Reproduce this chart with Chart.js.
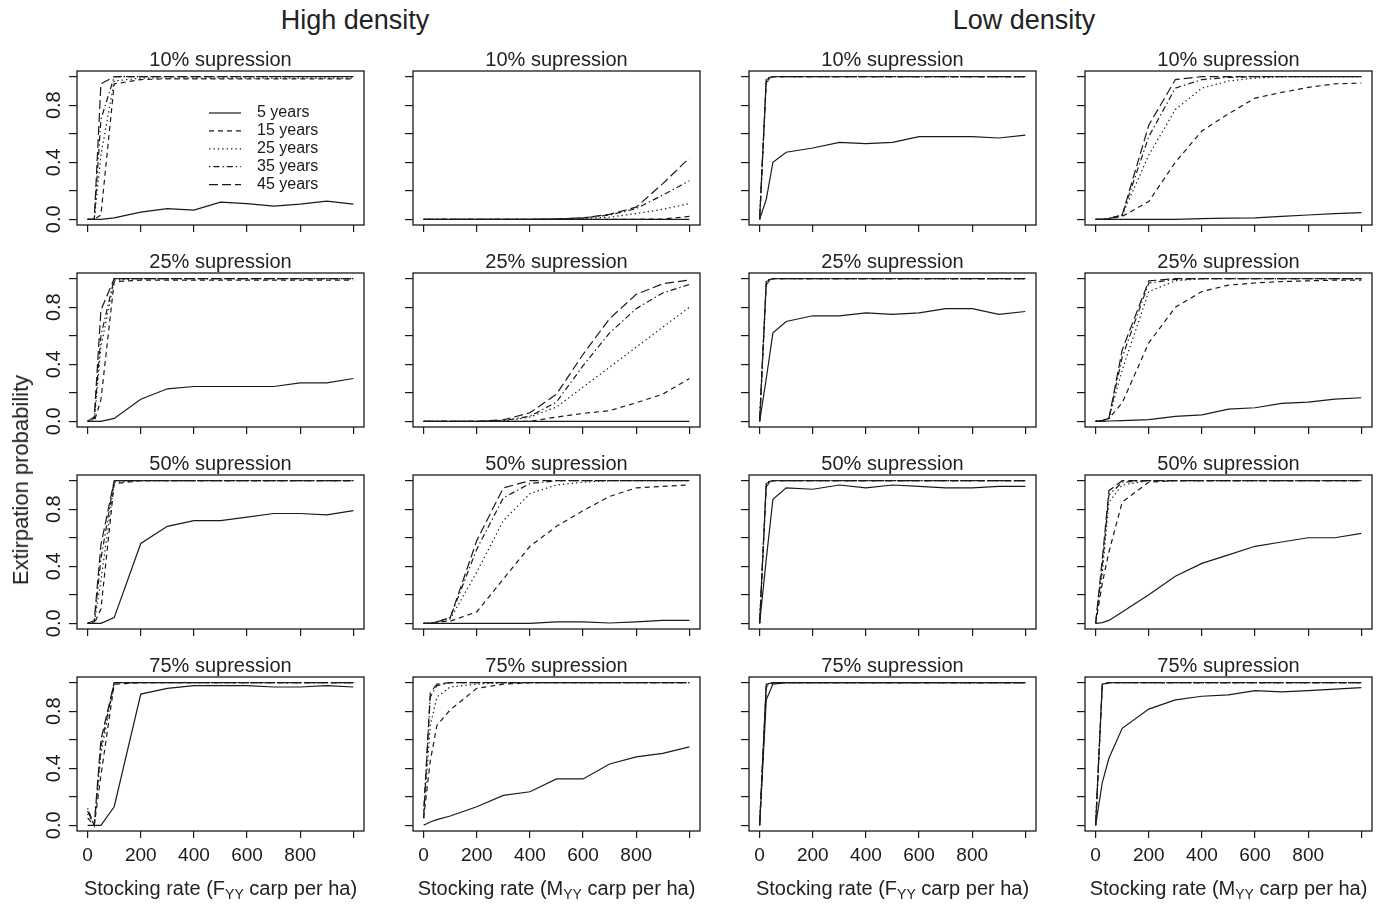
<!DOCTYPE html>
<html>
<head>
<meta charset="utf-8">
<script src="https://cdn.jsdelivr.net/npm/chart.js@4.4.0/dist/chart.umd.min.js"></script>
<style>
  html, body { margin: 0; padding: 0; background: #fff; }
  body { width: 1390px; height: 905px; position: relative; overflow: hidden;
         font-family: "Liberation Sans", Arial, sans-serif; color: #222; }
  .panel { position: absolute; }
  .lbl { position: absolute; transform: translate(-50%, -50%); white-space: nowrap; line-height: 1; }
  .hdr { font-size: 27px; }
  .ptitle { font-size: 20px; }
  .xtitle { font-size: 20px; }
  .xtitle sub { font-size: 70%; vertical-align: -0.3em; line-height: 0; }
  .ytitle { font-size: 22px; transform: translate(-50%, -50%) rotate(-90deg); }
</style>
</head>
<body>
<script>
// stocking rates (x) shared by every panel
const stockingRate = [0, 25, 50, 100, 200, 300, 400, 500, 600, 700, 800, 900, 1000];
const horizons = ["5 years", "15 years", "25 years", "35 years", "45 years"];
const suppression = ["10% supression", "25% supression", "50% supression", "75% supression"];
const densityHeaders = ["High density", "Low density"];
const xTickValues = [0, 200, 400, 600, 800, 1000];
const xTickLabels = ["0", "200", "400", "600", "800", ""];
const yTickValues = [0, 0.2, 0.4, 0.6, 0.8, 1];
const yTickLabels = ["0.0", "", "0.4", "", "0.8", ""];

// each panel: one row per horizon (5, 15, 25, 35, 45 years)
// High density, F_YY
const hiF10 = [
  [0, 0, 0, 0.01, 0.05, 0.075, 0.065, 0.12, 0.11, 0.093, 0.107, 0.128, 0.107],
  [0, 0, 0.03, 0.95, 0.98, 0.985, 0.985, 0.985, 0.985, 0.985, 0.985, 0.985, 0.985],
  [0, 0, 0.45, 0.97, 0.99, 0.99, 0.99, 0.99, 0.99, 0.99, 0.99, 0.99, 0.99],
  [0, 0, 0.7, 1, 1, 1, 1, 1, 1, 1, 1, 1, 1],
  [0, 0, 0.95, 1, 1, 1, 1, 1, 1, 1, 1, 1, 1]
];
const hiF25 = [
  [0, 0, 0, 0.02, 0.155, 0.228, 0.244, 0.244, 0.244, 0.244, 0.27, 0.27, 0.3],
  [0, 0, 0.15, 0.98, 0.99, 0.99, 0.99, 0.99, 0.99, 0.99, 0.99, 0.99, 0.99],
  [0, 0, 0.52, 0.99, 1, 1, 1, 1, 1, 1, 1, 1, 1],
  [0, 0.02, 0.6, 1, 1, 1, 1, 1, 1, 1, 1, 1, 1],
  [0, 0.03, 0.78, 1, 1, 1, 1, 1, 1, 1, 1, 1, 1]
];
const hiF50 = [
  [0, 0, 0, 0.04, 0.56, 0.68, 0.72, 0.72, 0.745, 0.77, 0.77, 0.76, 0.79],
  [0, 0, 0.1, 0.98, 1, 1, 1, 1, 1, 1, 1, 1, 1],
  [0, 0, 0.3, 0.99, 1, 1, 1, 1, 1, 1, 1, 1, 1],
  [0, 0.01, 0.45, 1, 1, 1, 1, 1, 1, 1, 1, 1, 1],
  [0, 0.02, 0.55, 1, 1, 1, 1, 1, 1, 1, 1, 1, 1]
];
const hiF75 = [
  [0, 0, 0, 0.13, 0.92, 0.96, 0.98, 0.98, 0.98, 0.97, 0.97, 0.98, 0.97],
  [0.05, 0, 0.35, 0.99, 1, 1, 1, 1, 1, 1, 1, 1, 1],
  [0.08, 0, 0.5, 1, 1, 1, 1, 1, 1, 1, 1, 1, 1],
  [0.12, 0, 0.55, 1, 1, 1, 1, 1, 1, 1, 1, 1, 1],
  [0.1, 0, 0.6, 1, 1, 1, 1, 1, 1, 1, 1, 1, 1]
];
// High density, M_YY
const hiM10 = [
  [0, 0, 0, 0, 0, 0, 0, 0, 0, 0, 0, 0, 0],
  [0, 0, 0, 0, 0, 0, 0, 0, 0, 0, 0, 0.002, 0.02],
  [0, 0, 0, 0, 0, 0, 0, 0, 0.005, 0.015, 0.04, 0.07, 0.11],
  [0, 0, 0, 0, 0, 0, 0, 0.002, 0.01, 0.03, 0.075, 0.17, 0.27],
  [0, 0, 0, 0, 0, 0, 0, 0.003, 0.01, 0.035, 0.085, 0.25, 0.43]
];
const hiM25 = [
  [0, 0, 0, 0, 0, 0, 0, 0, 0, 0, 0, 0, 0],
  [0, 0, 0, 0, 0, 0, 0, 0.03, 0.055, 0.075, 0.13, 0.19, 0.3],
  [0, 0, 0, 0, 0, 0, 0.03, 0.1, 0.24, 0.38, 0.52, 0.66, 0.8],
  [0, 0, 0, 0, 0, 0.005, 0.035, 0.135, 0.39, 0.62, 0.79, 0.9, 0.96],
  [0, 0, 0, 0, 0, 0.01, 0.06, 0.19, 0.47, 0.72, 0.89, 0.965, 0.99]
];
const hiM50 = [
  [0, 0, 0, 0, 0, 0, 0, 0.01, 0.01, 0.002, 0.01, 0.02, 0.02],
  [0, 0, 0.01, 0.015, 0.08, 0.31, 0.54, 0.68, 0.79, 0.89, 0.95, 0.96, 0.97],
  [0, 0, 0.01, 0.03, 0.36, 0.72, 0.91, 0.97, 0.99, 1, 1, 1, 1],
  [0, 0, 0.01, 0.04, 0.52, 0.88, 0.98, 1, 1, 1, 1, 1, 1],
  [0, 0, 0.01, 0.04, 0.58, 0.95, 1, 1, 1, 1, 1, 1, 1]
];
const hiM75 = [
  [0, 0.023, 0.04, 0.065, 0.13, 0.21, 0.235, 0.325, 0.325, 0.43, 0.48, 0.505, 0.55],
  [0.05, 0.45, 0.7, 0.81, 0.96, 0.99, 1, 1, 1, 1, 1, 1, 1],
  [0.05, 0.7, 0.9, 0.97, 0.99, 1, 1, 1, 1, 1, 1, 1, 1],
  [0.1, 0.9, 0.98, 1, 1, 1, 1, 1, 1, 1, 1, 1, 1],
  [0.05, 0.93, 0.99, 1, 1, 1, 1, 1, 1, 1, 1, 1, 1]
];
// Low density, F_YY
const loF10 = [
  [0, 0.14, 0.4, 0.47, 0.5, 0.54, 0.53, 0.54, 0.58, 0.58, 0.58, 0.57, 0.59],
  [0, 0.96, 1, 1, 1, 1, 1, 1, 1, 1, 1, 1, 1],
  [0, 0.97, 1, 1, 1, 1, 1, 1, 1, 1, 1, 1, 1],
  [0, 0.98, 1, 1, 1, 1, 1, 1, 1, 1, 1, 1, 1],
  [0, 0.99, 1, 1, 1, 1, 1, 1, 1, 1, 1, 1, 1]
];
const loF25 = [
  [0, 0.3, 0.62, 0.7, 0.74, 0.74, 0.76, 0.75, 0.76, 0.79, 0.79, 0.75, 0.77],
  [0, 0.96, 1, 1, 1, 1, 1, 1, 1, 1, 1, 1, 1],
  [0, 0.97, 1, 1, 1, 1, 1, 1, 1, 1, 1, 1, 1],
  [0, 0.98, 1, 1, 1, 1, 1, 1, 1, 1, 1, 1, 1],
  [0, 0.99, 1, 1, 1, 1, 1, 1, 1, 1, 1, 1, 1]
];
const loF50 = [
  [0, 0.45, 0.87, 0.95, 0.94, 0.97, 0.95, 0.97, 0.96, 0.95, 0.95, 0.96, 0.96],
  [0, 0.96, 1, 1, 1, 1, 1, 1, 1, 1, 1, 1, 1],
  [0, 0.97, 1, 1, 1, 1, 1, 1, 1, 1, 1, 1, 1],
  [0, 0.98, 1, 1, 1, 1, 1, 1, 1, 1, 1, 1, 1],
  [0, 0.99, 1, 1, 1, 1, 1, 1, 1, 1, 1, 1, 1]
];
const loF75 = [
  [0, 0.88, 0.99, 1, 1, 1, 1, 1, 1, 1, 1, 1, 1],
  [0, 0.97, 1, 1, 1, 1, 1, 1, 1, 1, 1, 1, 1],
  [0, 0.98, 1, 1, 1, 1, 1, 1, 1, 1, 1, 1, 1],
  [0, 0.99, 1, 1, 1, 1, 1, 1, 1, 1, 1, 1, 1],
  [0, 0.99, 1, 1, 1, 1, 1, 1, 1, 1, 1, 1, 1]
];
// Low density, M_YY
const loM10 = [
  [0, 0, 0, 0, 0, 0, 0.005, 0.008, 0.01, 0.02, 0.03, 0.04, 0.047],
  [0, 0, 0.005, 0.02, 0.125, 0.4, 0.62, 0.74, 0.85, 0.89, 0.925, 0.95, 0.955],
  [0, 0, 0.005, 0.03, 0.45, 0.77, 0.92, 0.97, 0.99, 1, 1, 1, 1],
  [0, 0, 0.005, 0.03, 0.58, 0.92, 0.98, 0.995, 1, 1, 1, 1, 1],
  [0, 0, 0.005, 0.03, 0.66, 0.98, 1, 1, 1, 1, 1, 1, 1]
];
const loM25 = [
  [0, 0, 0.002, 0.005, 0.012, 0.035, 0.045, 0.085, 0.095, 0.125, 0.135, 0.155, 0.165],
  [0, 0.005, 0.02, 0.13, 0.55, 0.8, 0.91, 0.955, 0.97, 0.98, 0.985, 0.99, 0.99],
  [0, 0.005, 0.02, 0.36, 0.91, 0.985, 1, 1, 1, 1, 1, 1, 1],
  [0, 0.005, 0.02, 0.45, 0.97, 0.995, 1, 1, 1, 1, 1, 1, 1],
  [0, 0.005, 0.02, 0.5, 0.985, 1, 1, 1, 1, 1, 1, 1, 1]
];
const loM50 = [
  [0, 0.005, 0.02, 0.08, 0.2, 0.33, 0.42, 0.48, 0.54, 0.57, 0.6, 0.6, 0.63],
  [0, 0.28, 0.5, 0.85, 0.99, 1, 1, 1, 1, 1, 1, 1, 1],
  [0, 0.35, 0.85, 0.97, 1, 1, 1, 1, 1, 1, 1, 1, 1],
  [0, 0.4, 0.9, 0.99, 1, 1, 1, 1, 1, 1, 1, 1, 1],
  [0, 0.45, 0.93, 1, 1, 1, 1, 1, 1, 1, 1, 1, 1]
];
const loM75 = [
  [0, 0.3, 0.47, 0.68, 0.815, 0.88, 0.905, 0.915, 0.945, 0.935, 0.945, 0.955, 0.965],
  [0, 0.98, 1, 1, 1, 1, 1, 1, 1, 1, 1, 1, 1],
  [0, 0.99, 1, 1, 1, 1, 1, 1, 1, 1, 1, 1, 1],
  [0, 0.99, 1, 1, 1, 1, 1, 1, 1, 1, 1, 1, 1],
  [0, 0.99, 1, 1, 1, 1, 1, 1, 1, 1, 1, 1, 1]
];

// grid of panels: rows = suppression level, columns = hiF, hiM, loF, loM
const panels = [
  [hiF10, hiM10, loF10, loM10],
  [hiF25, hiM25, loF25, loM25],
  [hiF50, hiM50, loF50, loM50],
  [hiF75, hiM75, loF75, loM75]
];
const xTitleSub = ["F", "M", "F", "M"];

// LAYOUT (px)
const boxLeft = [77, 413, 749, 1085];
const boxTop = [70.5, 272.6, 474.7, 676.8];
const boxW = 287, boxH = 154;
const padL = 45, padT = 2, padR = 3;

const ink = "#1a1a1a";
const dashes = [[], [5, 4], [1.4, 3], [1.4, 3, 6, 3], [9, 4]];
const fontFam = '"Liberation Sans", Arial, sans-serif';

Chart.defaults.font.family = fontFam;
Chart.defaults.color = ink;

function addLabel(text, cls, x, y, html) {
  const d = document.createElement("div");
  d.className = "lbl " + cls;
  d.style.left = x + "px";
  d.style.top = y + "px";
  if (html) d.innerHTML = text; else d.textContent = text;
  document.body.appendChild(d);
}

// box + rotated y labels + legend
const rFrame = {
  id: "rFrame",
  afterDraw(chart) {
    const { ctx, chartArea: a } = chart;
    const o = chart.options.plugins.rFrame;
    ctx.save();
    ctx.strokeStyle = ink;
    ctx.lineWidth = 1.3;
    ctx.strokeRect(a.left, a.top, a.right - a.left, a.bottom - a.top);

    if (o.yLabels) {
      const ys = chart.scales.y;
      ctx.fillStyle = ink;
      ctx.font = "20px " + fontFam;
      ctx.textAlign = "center";
      ctx.textBaseline = "middle";
      yTickValues.forEach((v, i) => {
        if (!yTickLabels[i]) return;
        ctx.save();
        ctx.translate(a.left - 23, ys.getPixelForValue(v));
        ctx.rotate(-Math.PI / 2);
        ctx.fillText(yTickLabels[i], 0, 0);
        ctx.restore();
      });
    }

    if (o.legend) {
      ctx.font = "16px " + fontFam;
      ctx.textAlign = "left";
      ctx.textBaseline = "middle";
      chart.data.datasets.forEach((ds, i) => {
        const y = a.top + 42 + i * 17.9;
        ctx.beginPath();
        ctx.setLineDash(ds.borderDash);
        ctx.lineWidth = 1.2;
        ctx.moveTo(a.left + 132, y);
        ctx.lineTo(a.left + 164, y);
        ctx.stroke();
        ctx.setLineDash([]);
        ctx.fillStyle = ink;
        ctx.fillText(ds.label, a.left + 180, y);
      });
    }
    ctx.restore();
  }
};

panels.forEach((row, r) => {
  row.forEach((series, c) => {
    const last = r === 3;
    const bottomH = last ? 50 : 12;
    const W = padL + boxW + padR, H = padT + boxH + bottomH;
    const wrap = document.createElement("div");
    wrap.className = "panel";
    wrap.style.left = (boxLeft[c] - padL) + "px";
    wrap.style.top = (boxTop[r] - padT) + "px";
    wrap.style.width = W + "px";
    wrap.style.height = H + "px";
    const cv = document.createElement("canvas");
    cv.width = W; cv.height = H;
    wrap.appendChild(cv);
    document.body.appendChild(wrap);

    new Chart(cv, {
      type: "line",
      data: {
        labels: stockingRate,
        datasets: series.map((vals, i) => ({
          label: horizons[i],
          data: vals.map((v, k) => ({ x: stockingRate[k], y: v })),
          borderColor: ink,
          borderWidth: 1.2,
          borderDash: dashes[i],
          pointRadius: 0,
          tension: 0,
          fill: false
        }))
      },
      options: {
        responsive: false,
        animation: false,
        devicePixelRatio: 1,
        layout: { padding: { top: padT, right: padR, left: 0, bottom: 0 } },
        plugins: {
          legend: { display: false },
          tooltip: { enabled: false },
          rFrame: { yLabels: c === 0, legend: r === 0 && c === 0 }
        },
        scales: {
          x: {
            type: "linear",
            min: -40, max: 1040,
            afterBuildTicks: s => { s.ticks = xTickValues.map(v => ({ value: v })); },
            afterFit: s => { s.height = bottomH; },
            grid: { drawOnChartArea: false, drawTicks: true, tickLength: 7, color: ink, lineWidth: 1.2 },
            border: { display: false },
            ticks: {
              display: last,
              autoSkip: false,
              maxRotation: 0,
              padding: 6,
              font: { size: 19 },
              color: ink,
              callback: v => xTickLabels[xTickValues.indexOf(v)] || ""
            }
          },
          y: {
            type: "linear",
            min: -0.04, max: 1.04,
            afterBuildTicks: s => { s.ticks = yTickValues.map(v => ({ value: v })); },
            afterFit: s => { s.width = padL; },
            grid: { drawOnChartArea: false, drawTicks: true, tickLength: 8, color: ink, lineWidth: 1.2 },
            border: { display: false },
            ticks: { display: false }
          }
        }
      },
      plugins: [rFrame]
    });

    addLabel(suppression[r], "ptitle", boxLeft[c] + boxW / 2, boxTop[r] - 12);
    if (last) {
      addLabel("Stocking rate (" + xTitleSub[c] + "<sub>YY</sub> carp per ha)", "xtitle",
        boxLeft[c] + boxW / 2, 888, true);
    }
  });
});

addLabel(densityHeaders[0], "hdr", 355, 20);
addLabel(densityHeaders[1], "hdr", 1024, 20);
addLabel("Extirpation probability", "ytitle", 21, 480);
</script>
</body>
</html>
